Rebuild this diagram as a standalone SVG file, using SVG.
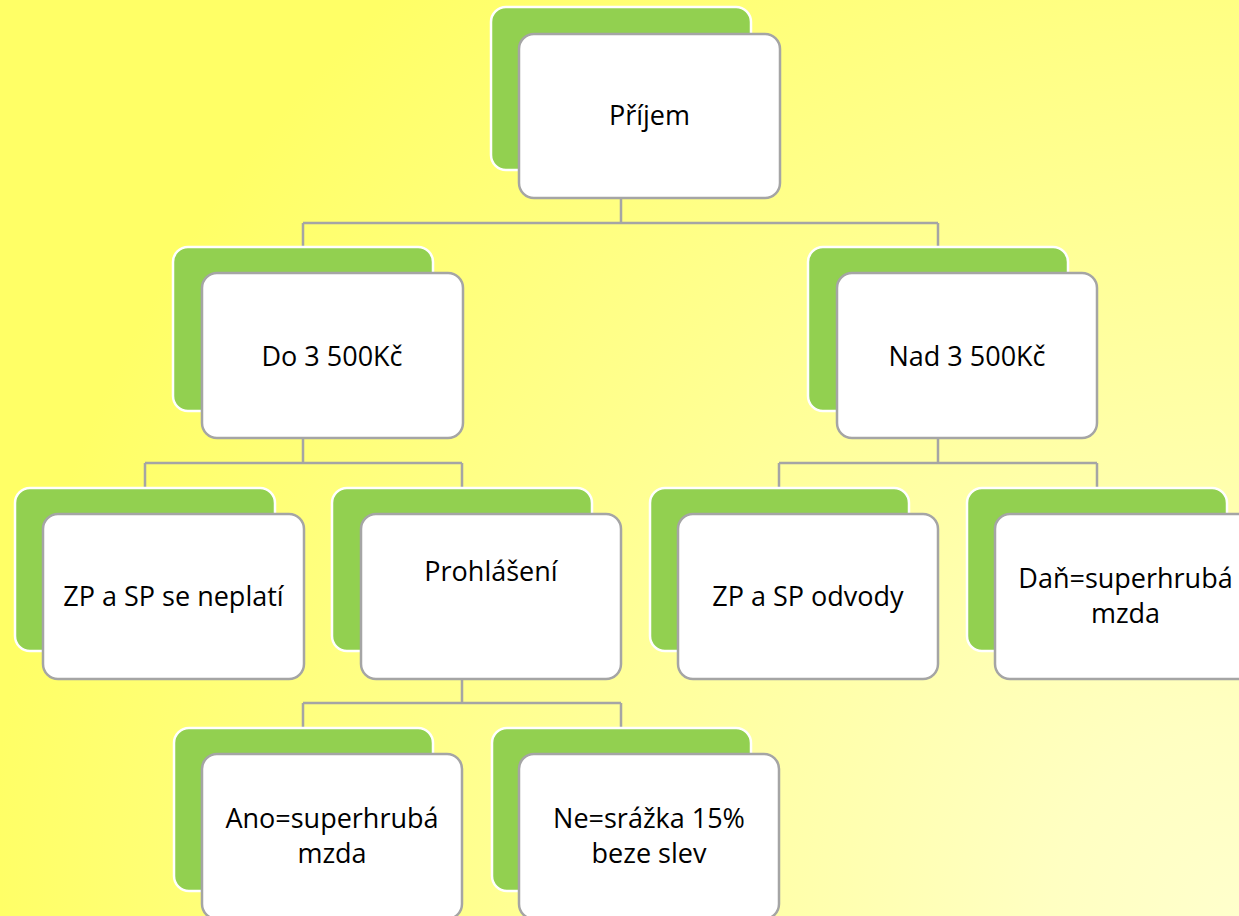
<svg xmlns="http://www.w3.org/2000/svg" width="1239" height="916" viewBox="0 0 1239 916">
<defs>
<radialGradient id="bg" gradientUnits="userSpaceOnUse" cx="1239" cy="916" r="1250">
<stop offset="0" stop-color="#FFFFCC"/>
<stop offset="0.15" stop-color="#FFFFC2"/>
<stop offset="1" stop-color="#FFFF66"/>
</radialGradient>
<style>
.back{fill:#92D050;stroke:#FFFFFF;stroke-width:2.5}
.front{fill:#FFFFFF;stroke:#A5A5A5;stroke-width:2.5}
.lbl{font-family:"Open Sans","Noto Sans",sans-serif;font-size:27px;fill:#000000;text-anchor:middle}
.conn{fill:none;stroke:#A5A5A5;stroke-width:2.5}
</style>
</defs>
<rect x="0" y="0" width="1239" height="916" fill="url(#bg)"/>
<g id="connectors">
<path class="conn" d="M621,198 V223 M303,223 H938 M303,223 V247 M938,223 V247"/>
<path class="conn" d="M303,438 V463 M145,463 H462 M145,463 V488 M462,463 V488"/>
<path class="conn" d="M938,438 V463 M779,463 H1097 M779,463 V488 M1097,463 V488"/>
<path class="conn" d="M462,679 V703 M303,703 H621 M303,703 V728 M621,703 V728"/>
</g>
<g id="node-prijem">
<rect class="back" x="491" y="7" width="260" height="163" rx="15"/>
<rect class="front" x="519" y="34" width="261" height="164" rx="15"/>
<text class="lbl" x="649.5" y="125">Příjem</text>
</g>
<g id="node-do">
<rect class="back" x="173" y="247" width="260" height="164" rx="15"/>
<rect class="front" x="202" y="273" width="261" height="165" rx="15"/>
<text class="lbl" x="332" y="366">Do 3 500Kč</text>
</g>
<g id="node-nad">
<rect class="back" x="808" y="247" width="260" height="164" rx="15"/>
<rect class="front" x="837" y="273" width="260" height="165" rx="15"/>
<text class="lbl" x="967" y="366">Nad 3 500Kč</text>
</g>
<g id="node-neplati">
<rect class="back" x="15" y="488" width="260" height="163" rx="15"/>
<rect class="front" x="43" y="514" width="261" height="165" rx="15"/>
<text class="lbl" x="173.5" y="606">ZP a SP se neplatí</text>
</g>
<g id="node-prohlaseni">
<rect class="back" x="332" y="488" width="260" height="163" rx="15"/>
<rect class="front" x="361" y="514" width="260" height="165" rx="15"/>
<text class="lbl" x="491" y="581">Prohlášení</text>
</g>
<g id="node-odvody">
<rect class="back" x="650" y="488" width="259" height="163" rx="15"/>
<rect class="front" x="678" y="514" width="260" height="165" rx="15"/>
<text class="lbl" x="808" y="606">ZP a SP odvody</text>
</g>
<g id="node-dan">
<rect class="back" x="967" y="488" width="260" height="163" rx="15"/>
<rect class="front" x="995" y="514" width="261" height="165" rx="15"/>
<text class="lbl" x="1125.5" y="588">Daň=superhrubá</text>
<text class="lbl" x="1125.5" y="623">mzda</text>
</g>
<g id="node-ano">
<rect class="back" x="174" y="728" width="259" height="163" rx="15"/>
<rect class="front" x="202" y="754" width="260" height="165" rx="15"/>
<text class="lbl" x="332" y="828">Ano=superhrubá</text>
<text class="lbl" x="332" y="863">mzda</text>
</g>
<g id="node-ne">
<rect class="back" x="492" y="728" width="259" height="163" rx="15"/>
<rect class="front" x="519" y="754" width="260" height="165" rx="15"/>
<text class="lbl" x="649" y="828">Ne=srážka 15%</text>
<text class="lbl" x="649" y="863">beze slev</text>
</g>
</svg>
